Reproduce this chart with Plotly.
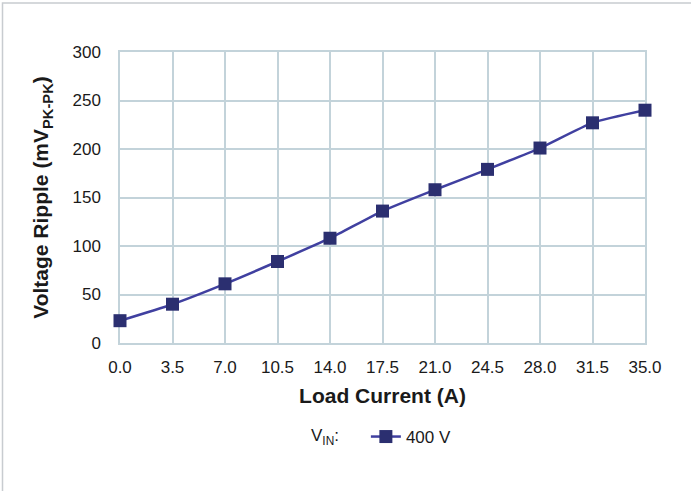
import plotly.graph_objects as go

load_current = [0.0, 3.5, 7.0, 10.5, 14.0, 17.5, 21.0, 24.5, 28.0, 31.5, 35.0]
ripple_400v = [23, 40, 61, 84, 108, 136, 158, 179, 201, 227, 240]
x_ticks = [0.0, 3.5, 7.0, 10.5, 14.0, 17.5, 21.0, 24.5, 28.0, 31.5, 35.0]
x_tick_labels = ["0.0", "3.5", "7.0", "10.5", "14.0", "17.5", "21.0", "24.5", "28.0", "31.5", "35.0"]
y_ticks = [0, 50, 100, 150, 200, 250, 300]

grid_col = "#c3d3da"
font_fam = "Liberation Sans, Arial, sans-serif"
txt_col = "#1a1a1a"

fig = go.Figure()
fig.add_trace(go.Scatter(
    x=load_current, y=ripple_400v, mode="lines+markers", name="400 V",
    line=dict(color="#4040a0", width=2.5, shape="spline", smoothing=0.6),
    marker=dict(symbol="square", size=13, color="#2b2f70",
                line=dict(color="#2b2f70", width=0)),
    cliponaxis=False,
))

W, H = 691, 491
L, T = 120, 52
R = W - 645
B = H - 343
pw, ph = W - L - R, H - T - B

def px(x):
    return (x - L) / pw

def py(y):
    return (H - B - y) / ph

fig.add_shape(type="rect", xref="paper", yref="paper",
              x0=px(2.5), x1=px(720), y0=py(520), y1=py(3),
              line=dict(color="#c8ccd0", width=1.5), fillcolor="rgba(0,0,0,0)",
              layer="below")

fig.update_layout(
    width=W, height=H,
    margin=dict(l=L, r=R, t=T, b=B, autoexpand=False),
    paper_bgcolor="white", plot_bgcolor="white",
    font=dict(family=font_fam, size=17, color=txt_col),
    showlegend=True,
    legend=dict(orientation="h", x=0.5, xanchor="center", y=py(437), yanchor="middle",
                title=dict(text="V<sub>IN</sub>:    ", side="left",
                           font=dict(size=17, family=font_fam, color=txt_col)),
                font=dict(size=17, family=font_fam, color=txt_col),
                bgcolor="rgba(0,0,0,0)"),
    xaxis=dict(
        range=[0, 35], tickmode="array", tickvals=x_ticks, ticktext=x_tick_labels,
        showgrid=True, gridcolor=grid_col, gridwidth=1.5,
        showline=True, linecolor=grid_col, linewidth=1.5, mirror=True,
        zeroline=False, ticks="", ticklabelstandoff=8, layer="below traces",
        tickfont=dict(size=17),
        title=dict(text="<b>Load Current (A)</b>", font=dict(size=21, family=font_fam, color=txt_col),
                   standoff=12),
    ),
    yaxis=dict(
        range=[0, 300], tickmode="array", tickvals=y_ticks,
        showgrid=True, gridcolor=grid_col, gridwidth=1.5,
        showline=True, linecolor=grid_col, linewidth=1.5, mirror=True,
        zeroline=False, ticks="", ticklabelstandoff=14, layer="below traces",
        tickfont=dict(size=17),
        title=dict(text="<b>Voltage Ripple (mV<sub>PK-PK</sub>)</b>",
                   font=dict(size=21, family=font_fam, color=txt_col), standoff=18),
    ),
)

fig.write_html("out.html", config={"displayModeBar": False},
               post_script="document.body.style.margin='0px';document.body.style.overflow='hidden';")
